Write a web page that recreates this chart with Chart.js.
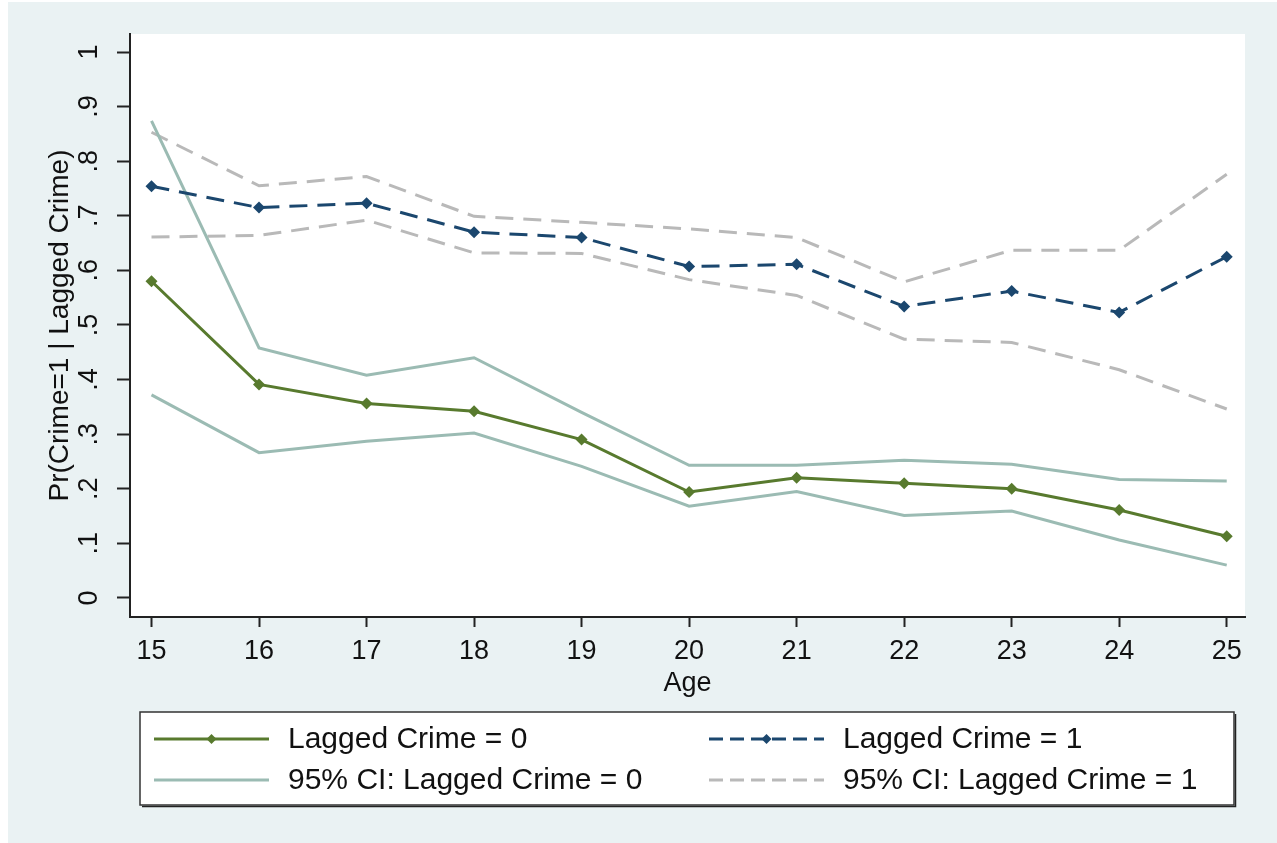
<!DOCTYPE html>
<html>
<head>
<meta charset="utf-8">
<title>Pr(Crime=1 | Lagged Crime) by Age</title>
<script src="https://cdn.jsdelivr.net/npm/chart.js@4"></script>
<style>
  html, body { margin: 0; padding: 0; background: #ffffff; }
  canvas { display: block; }
</style>
</head>
<body>
<canvas id="myChart" width="1277" height="843"></canvas>
<script>
// ages on the x axis
const ages = [15, 16, 17, 18, 19, 20, 21, 22, 23, 24, 25];

// predicted probabilities
const lagged0 = [0.580, 0.391, 0.356, 0.342, 0.290, 0.194, 0.220, 0.210, 0.200, 0.161, 0.113];
const lagged1 = [0.754, 0.715, 0.723, 0.670, 0.660, 0.607, 0.611, 0.534, 0.562, 0.523, 0.625];

// 95% confidence bounds
const ci0Upper = [0.874, 0.458, 0.408, 0.440, 0.340, 0.243, 0.243, 0.252, 0.245, 0.217, 0.214];
const ci0Lower = [0.372, 0.266, 0.287, 0.302, 0.241, 0.168, 0.195, 0.151, 0.159, 0.106, 0.060];
const ci1Upper = [0.853, 0.755, 0.772, 0.699, 0.688, 0.676, 0.660, 0.579, 0.637, 0.637, 0.776];
const ci1Lower = [0.661, 0.664, 0.692, 0.632, 0.631, 0.583, 0.554, 0.474, 0.468, 0.418, 0.346];

// y axis ticks
const yTicks = [0, 0.1, 0.2, 0.3, 0.4, 0.5, 0.6, 0.7, 0.8, 0.9, 1];
const yTickLabels = ["0", ".1", ".2", ".3", ".4", ".5", ".6", ".7", ".8", ".9", "1"];

const GREEN = "#587a2e";
const NAVY = "#1b476e";
const CI0_COLOR = "#9bbbb3";
const CI1_COLOR = "#b9b9b9";
const FONT = "'Liberation Sans', Arial, sans-serif";

function points(values){
    return ages.map((a, i) => ({x: a, y: values[i]}));
}

// page background + white plot region
const backdrop = {
    id: "backdrop",
    beforeDraw(chart){
        let c = chart.ctx;
        let area = chart.chartArea;
        c.save();
        c.fillStyle = "#eaf2f3";
        c.fillRect(8, 2, chart.width - 8, chart.height - 2);
        c.fillStyle = "#ffffff";
        c.fillRect(area.left, area.top, area.right - area.left, area.bottom - area.top);
        c.restore();
    }
};

// boxed two-column legend under the plot
const boxLegend = {
    id: "boxLegend",
    afterDraw(chart, args, opts){
        let c = chart.ctx;
        let ds = chart.data.datasets;
        let box = opts.box;
        c.save();
        // shadow edge on bottom and right
        c.strokeStyle = "#222";
        c.lineWidth = 1.5;
        c.beginPath();
        c.moveTo(box.x + 2, box.y + box.h + 1.5);
        c.lineTo(box.x + box.w + 1.5, box.y + box.h + 1.5);
        c.lineTo(box.x + box.w + 1.5, box.y + 2);
        c.stroke();
        c.fillStyle = "#ffffff";
        c.fillRect(box.x, box.y, box.w, box.h);
        c.strokeStyle = "#333";
        c.lineWidth = 1.5;
        c.strokeRect(box.x, box.y, box.w, box.h);

        opts.items.forEach((item, n) => {
            let d = ds[item.dataset];
            let col = n % 2;
            let row = Math.floor(n / 2);
            let x0 = opts.colX[col];
            let y = opts.rowY[row];
            c.strokeStyle = d.borderColor;
            c.lineWidth = 3;
            c.setLineDash(d.borderDash ? opts.legendDash : []);
            c.beginPath();
            c.moveTo(x0, y);
            c.lineTo(x0 + opts.sampleW, y);
            c.stroke();
            c.setLineDash([]);
            if (d.pointRadius > 0){
                let mx = x0 + opts.sampleW / 2;
                let r = 5;
                c.fillStyle = d.borderColor;
                c.beginPath();
                c.moveTo(mx, y - r);
                c.lineTo(mx + r, y);
                c.lineTo(mx, y + r);
                c.lineTo(mx - r, y);
                c.closePath();
                c.fill();
            }
            c.fillStyle = "#111";
            c.font = "30px " + FONT;
            c.textBaseline = "middle";
            c.textAlign = "left";
            c.fillText(d.label, x0 + opts.sampleW + opts.textGap, y + 1);
        });
        c.restore();
    }
};

let ctx = document.getElementById("myChart").getContext("2d");
let myChart = new Chart(ctx, {
    type: "line",
    data: {
        datasets: [
            {
                label: "Lagged Crime = 0",
                data: points(lagged0),
                borderColor: GREEN,
                backgroundColor: GREEN,
                borderWidth: 3,
                pointStyle: "rectRot",
                pointRadius: 6,
                pointBorderWidth: 0
            },
            {
                label: "Lagged Crime = 1",
                data: points(lagged1),
                borderColor: NAVY,
                backgroundColor: NAVY,
                borderWidth: 3,
                borderDash: [18, 10],
                pointStyle: "rectRot",
                pointRadius: 6,
                pointBorderWidth: 0
            },
            {
                label: "95% CI: Lagged Crime = 0",
                data: points(ci0Upper),
                borderColor: CI0_COLOR,
                borderWidth: 3,
                pointRadius: 0
            },
            {
                label: "95% CI: Lagged Crime = 0 (lower)",
                data: points(ci0Lower),
                borderColor: CI0_COLOR,
                borderWidth: 3,
                pointRadius: 0
            },
            {
                label: "95% CI: Lagged Crime = 1",
                data: points(ci1Upper),
                borderColor: CI1_COLOR,
                borderWidth: 3,
                borderDash: [18, 10],
                pointRadius: 0
            },
            {
                label: "95% CI: Lagged Crime = 1 (lower)",
                data: points(ci1Lower),
                borderColor: CI1_COLOR,
                borderWidth: 3,
                borderDash: [18, 10],
                pointRadius: 0
            }
        ]
    },
    options: {
        responsive: false,
        animation: false,
        devicePixelRatio: 1,
        layout: {
            padding: {left: 0, top: 34, right: 32, bottom: 143}
        },
        scales: {
            x: {
                type: "linear",
                min: 14.8,
                max: 25.17,
                afterBuildTicks(scale){
                    scale.ticks = ages.map(v => ({value: v}));
                },
                afterFit(scale){
                    scale.height = 83;
                },
                border: {display: true, color: "#222", width: 2},
                grid: {
                    display: true,
                    drawOnChartArea: false,
                    drawTicks: true,
                    tickLength: 10,
                    tickColor: "#222",
                    tickWidth: 2
                },
                ticks: {
                    autoSkip: false,
                    maxRotation: 0,
                    padding: 8,
                    color: "#111",
                    font: {family: FONT, size: 27},
                    callback: (value) => String(value)
                },
                title: {
                    display: true,
                    text: "Age",
                    color: "#111",
                    font: {family: FONT, size: 27},
                    padding: {top: 0, bottom: 0}
                }
            },
            y: {
                type: "linear",
                min: -0.035,
                max: 1.033,
                afterBuildTicks(scale){
                    scale.ticks = yTicks.map(v => ({value: v}));
                },
                afterFit(scale){
                    scale.width = 130;
                },
                border: {display: true, color: "#222", width: 2},
                grid: {
                    display: true,
                    drawOnChartArea: false,
                    drawTicks: true,
                    tickLength: 13,
                    tickColor: "#222",
                    tickWidth: 2
                },
                ticks: {
                    autoSkip: false,
                    minRotation: 90,
                    maxRotation: 90,
                    crossAlign: "center",
                    padding: 16,
                    color: "#111",
                    font: {family: FONT, size: 27},
                    callback: (value, index) => yTickLabels[index]
                },
                title: {
                    display: true,
                    text: "Pr(Crime=1 | Lagged Crime)",
                    color: "#111",
                    font: {family: FONT, size: 28},
                    padding: {top: 43, bottom: 0}
                }
            }
        },
        plugins: {
            legend: {display: false},
            tooltip: {enabled: false},
            boxLegend: {
                box: {x: 140, y: 712, w: 1094, h: 93},
                colX: [154, 709],
                rowY: [739, 780],
                sampleW: 115,
                textGap: 19,
                legendDash: [14, 7],
                items: [
                    {dataset: 0},
                    {dataset: 1},
                    {dataset: 2},
                    {dataset: 4}
                ]
            }
        }
    },
    plugins: [backdrop, boxLegend]
});
</script>
</body>
</html>
